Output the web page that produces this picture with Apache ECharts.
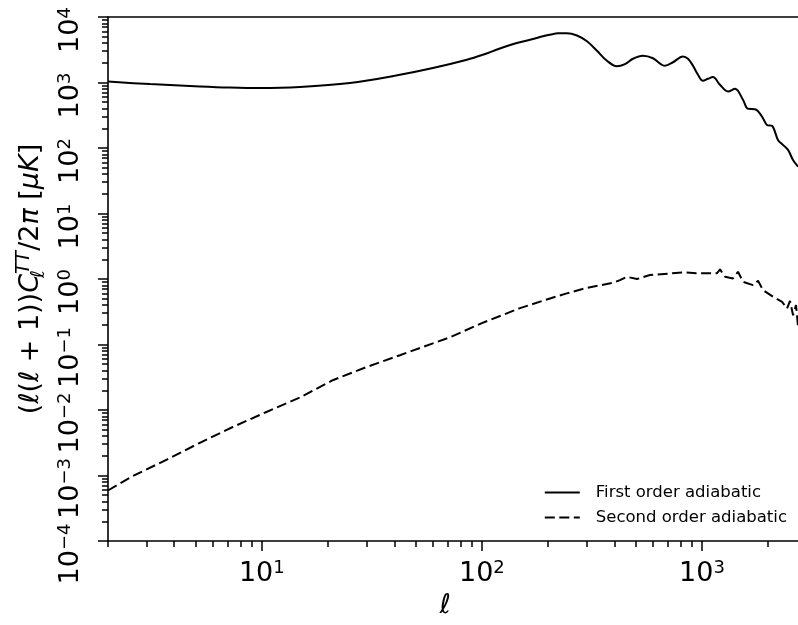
<!DOCTYPE html>
<html><head><meta charset="utf-8">
<script src="https://cdn.jsdelivr.net/npm/echarts@6/dist/echarts.min.js"></script>
<style>html,body{margin:0;padding:0;background:#fff}#c{width:798px;height:625px}</style>
</head><body><div id="c"></div>
<script>
// ---- data ----
const ellFirst = [2, 3.1, 5.23, 7.15, 9.79, 14.9, 25.1, 42.4, 59.9, 85.5, 101, 120.7, 144.2, 170.5, 189.4, 203.8, 221.6, 243.5, 270.3, 300.2, 333.2, 370, 410.8, 446.7, 485.8, 539.4, 598.9, 678.9, 738.4, 819.6, 863.9, 910.4, 959, 1010, 1065, 1122, 1207, 1313, 1413, 1536, 1619, 1741, 1874, 1975, 2081, 2215, 2334, 2460, 2592, 2732];
const clFirst = [1036, 945, 869, 836, 821, 851, 979, 1311, 1661, 2224, 2650, 3300, 4003, 4609, 5087, 5361, 5633, 5653, 5213, 4266, 3052, 2147, 1769, 1911, 2304, 2560, 2344, 1800, 2037, 2498, 2304, 1800, 1311, 1062, 1139, 1209, 922, 729, 801, 544, 396, 392, 302, 225, 218, 133, 111.5, 93.5, 65.8, 52];

const ellSecond = [2, 2.59, 3.7, 5.2, 7.38, 10.5, 14.9, 21, 30, 42.4, 71.6, 100, 149, 204, 243, 300, 394, 424, 456, 507, 580, 820, 979, 1169, 1208, 1273, 1383, 1458, 1537, 1706, 1798, 1894, 2103, 2312, 2435, 2512, 2594, 2675, 2731];
const clSecond = [5.9e-4, 9.8e-4, 1.75e-3, 3.13e-3, 5.5e-3, 9.33e-3, 0.0155, 0.0285, 0.0455, 0.0686, 0.129, 0.212, 0.359, 0.505, 0.603, 0.733, 0.875, 0.96, 1.08, 1.0, 1.15, 1.26, 1.22, 1.22, 1.40, 1.08, 1.02, 1.29, 0.906, 0.807, 0.938, 0.676, 0.535, 0.448, 0.355, 0.464, 0.28, 0.40, 0.19];

const seriesNames = ['First order adiabatic', 'Second order adiabatic'];

const xMin = 2, xMax = 2731;
const yMin = 1e-4, yMax = 1e4;
const xMajorTicks = [10, 100, 1000];
const xMinorTicks = [2, 3, 4, 5, 6, 7, 8, 9, 20, 30, 40, 50, 60, 70, 80, 90, 200, 300, 400, 500, 600, 700, 800, 900, 2000];
const yMajorTicks = [1e-4, 1e-3, 1e-2, 1e-1, 1, 10, 100, 1000, 10000];
const yMinorTicks = [];
for (let e = -4; e < 4; e++) for (let m = 2; m <= 9; m++) yMinorTicks.push(+(m * Math.pow(10, e)).toPrecision(3));

// ---- chart ----
const FONT = 'DejaVu Sans';
const INK = '#000';
const tickLine = { color: INK, width: 1.5 };
function powLabel(v) {
  const e = Math.round(Math.log10(v));
  return '{b|10}{s|' + (e < 0 ? '\u2212' + (-e) : String(e)) + '}';
}
const labelRich = {
  b: { fontFamily: FONT, fontSize: 27, lineHeight: 30, color: INK },
  s: { fontFamily: FONT, fontSize: 18, lineHeight: 18, verticalAlign: 'top', color: INK }
};

const chart = echarts.init(document.getElementById('c'), null, { renderer: 'canvas' });
chart.setOption({
  animation: false,
  backgroundColor: '#fff',
  grid: { left: 108, right: 0, top: 17, bottom: 84, containLabel: false, outerBoundsMode: 'none' },
  legend: {
    orient: 'vertical', right: 6, top: 479,
    itemWidth: 35, itemHeight: 14, itemGap: 8,
    data: seriesNames,
    itemStyle: { opacity: 0, borderWidth: 0 },
    textStyle: { fontFamily: FONT, fontSize: 16.5, color: INK, padding: [0, 0, 0, 11] }
  },
  xAxis: [
    {
      type: 'log', logBase: 10, min: xMin, max: xMax, position: 'bottom',
      name: 'ℓ', nameLocation: 'middle', nameGap: 49,
      nameTextStyle: { fontFamily: FONT, fontSize: 27, fontStyle: 'italic', color: INK, padding: [0, 16, 0, 0] },
      axisLine: { show: true, lineStyle: { color: INK, width: 1.6 } },
      axisTick: { show: true, customValues: xMajorTicks, length: 10, lineStyle: tickLine },
      axisLabel: { show: true, customValues: xMajorTicks, margin: 18, formatter: powLabel, rich: labelRich },
      splitLine: { show: false }, minorTick: { show: false }
    },
    {
      type: 'log', logBase: 10, min: xMin, max: xMax, position: 'bottom',
      axisLine: { show: false },
      axisTick: { show: true, customValues: xMinorTicks, length: 6, lineStyle: tickLine },
      axisLabel: { show: false }, splitLine: { show: false }
    },
    {
      type: 'log', logBase: 10, min: xMin, max: xMax, position: 'top',
      axisLine: { show: true, lineStyle: { color: INK, width: 1.6 } },
      axisTick: { show: false }, axisLabel: { show: false }, splitLine: { show: false }
    }
  ],
  yAxis: [
    {
      type: 'log', logBase: 10, min: yMin, max: yMax, position: 'left',
      name: '{n|(}{i|ℓ}{n|(}{i|ℓ}{n| + 1))}{i|C}{sub|ℓ}{sup|TT}{n|/2}{i|π}{n| [}{i|μK}{n|]}',
      nameLocation: 'middle', nameRotate: 90, nameGap: 51,
      nameTextStyle: {
        fontFamily: FONT, fontSize: 27, color: INK,
        rich: {
          n: { fontFamily: FONT, fontSize: 27, lineHeight: 34, color: INK },
          i: { fontFamily: FONT, fontSize: 27, lineHeight: 34, fontStyle: 'italic', color: INK },
          sup: { fontFamily: FONT, fontSize: 19, lineHeight: 19, fontStyle: 'italic', verticalAlign: 'top', color: INK },
          sub: { fontFamily: FONT, fontSize: 19, lineHeight: 19, fontStyle: 'italic', verticalAlign: 'bottom', width: 0, color: INK }
        }
      },
      axisLine: { show: true, lineStyle: { color: INK, width: 1.6 } },
      axisTick: { show: true, customValues: yMajorTicks, length: 10, lineStyle: tickLine },
      axisLabel: { show: true, customValues: yMajorTicks, rotate: 90, margin: 22, padding: [0, 26, 0, 0], formatter: powLabel, rich: labelRich },
      splitLine: { show: false }, minorTick: { show: false }
    },
    {
      type: 'log', logBase: 10, min: yMin, max: yMax, position: 'left',
      axisLine: { show: false },
      axisTick: { show: true, customValues: yMinorTicks, length: 6, lineStyle: tickLine },
      axisLabel: { show: false }, splitLine: { show: false }
    }
  ],
  series: [
    {
      name: seriesNames[0], type: 'line', xAxisIndex: 0, yAxisIndex: 0,
      data: ellFirst.map((l, i) => [l, clFirst[i]]),
      symbol: 'none', showSymbol: false, smooth: 0.35,
      lineStyle: { color: INK, width: 2 }, itemStyle: { color: INK }
    },
    {
      name: seriesNames[1], type: 'line', xAxisIndex: 0, yAxisIndex: 0,
      data: ellSecond.map((l, i) => [l, clSecond[i]]),
      symbol: 'none', showSymbol: false,
      lineStyle: { color: INK, width: 2, type: [10, 4.5] }, itemStyle: { color: INK }
    }
  ]
});
</script>
</body></html>
